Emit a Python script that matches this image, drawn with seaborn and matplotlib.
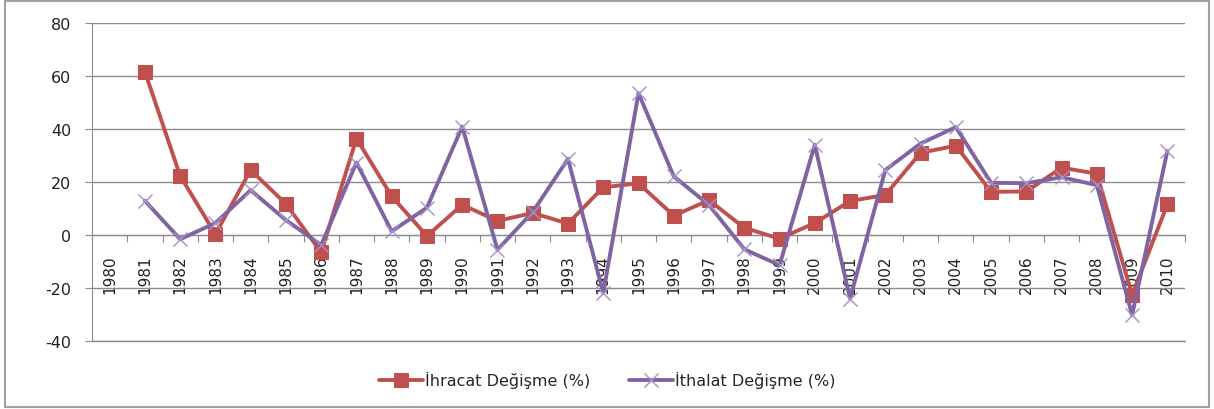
import numpy as np
import pandas as pd
import matplotlib
matplotlib.use('Agg')
import matplotlib.pyplot as plt
import seaborn as sns
from matplotlib.patches import Rectangle
from matplotlib.ticker import FixedLocator, NullFormatter

# veriler
yillar = [str(y) for y in range(1980, 2011)]
ihracat = [np.nan, 61.6, 22.3, 0.3, 24.5, 11.7, -6.6, 36.4, 14.6, -0.4,
           11.4, 5.3, 8.3, 4.3, 18.0, 19.5, 7.3, 13.1, 2.7, -1.4,
           4.5, 12.8, 15.1, 31.0, 33.7, 16.3, 16.4, 25.4, 23.1, -22.6, 11.5]
ithalat = [np.nan, 12.9, -1.6, 4.5, 16.9, 5.6, -3.8, 27.3, 1.4, 10.3,
           40.9, -5.6, 8.7, 28.7, -21.9, 53.5, 22.1, 11.3, -5.4, -11.4,
           34.0, -24.0, 24.5, 34.5, 40.7, 19.7, 19.5, 21.8, 18.8, -30.2, 31.7]
seri_adlari = ['İhracat Değişme (%)', 'İthalat Değişme (%)']
y_ticks = [-40, -20, 0, 20, 40, 60, 80]

sns.set_style('white')
plt.rcParams['font.family'] = ['DejaVu Sans']

df = pd.DataFrame({'idx': np.arange(len(yillar)), 'ihracat': ihracat, 'ithalat': ithalat})
df = df.dropna()

fig = plt.figure(figsize=(12.14, 4.10), dpi=100)
ax = fig.add_axes([0.0758, 0.166, 0.9003, 0.7755])

sns.lineplot(data=df, x='idx', y='ihracat', ax=ax, color='#C0504D', lw=2.8,
             marker='s', markersize=10, markeredgecolor='#C0504D',
             label=seri_adlari[0], zorder=3)
sns.lineplot(data=df, x='idx', y='ithalat', ax=ax, color='#8064A2', lw=2.8,
             marker='x', markersize=10, markeredgecolor='#A38FC9', mew=1.0,
             label=seri_adlari[1], zorder=4)

ax.set_xlim(-0.5, len(yillar) - 0.5)
ax.set_ylim(-40, 80)
ax.set_yticks(y_ticks)
ax.set_yticklabels([str(v) for v in y_ticks], fontsize=11.5, color='#222222')
ax.yaxis.grid(True, color='#8c8c8c', lw=1)
ax.set_axisbelow(True)
# alt kılavuz çizgisi (-40) kırpılmasın
ax.axhline(y_ticks[0], color='#8c8c8c', lw=1, clip_on=False, zorder=0.5)

# x ekseni 0 çizgisinde
for s in ['top', 'right']:
    ax.spines[s].set_visible(False)
ax.spines['bottom'].set_position(('data', 0))
ax.spines['bottom'].set_color('#8c8c8c')
ax.spines['left'].set_color('#8c8c8c')
ax.xaxis.set_major_locator(FixedLocator(np.arange(-0.5, len(yillar), 1)))
ax.xaxis.set_major_formatter(NullFormatter())
ax.xaxis.set_minor_locator(FixedLocator(np.arange(len(yillar))))
ax.set_xticklabels(yillar, minor=True, rotation=90, fontsize=11, color='#222222')
ax.tick_params(axis='x', which='major', direction='out', length=5, color='#8c8c8c', bottom=True)
ax.tick_params(axis='x', which='minor', length=0, pad=14)
ax.tick_params(axis='y', direction='out', length=5, color='#8c8c8c', left=True, pad=10)
ax.set_xlabel('')
ax.set_ylabel('')

ax.get_legend().remove()
h, l = ax.get_legend_handles_labels()
fig.legend(h, l, loc='center', bbox_to_anchor=(0.5, 0.071), ncol=2, frameon=False,
           fontsize=11.5, handlelength=2.8, columnspacing=2.4, handletextpad=0.1)

fig.patches.append(Rectangle((0.004, 0.004), 0.992, 0.992, transform=fig.transFigure,
                             fill=False, edgecolor='#a0a0a0', lw=1.5))

fig.savefig('out.png', dpi=100)
